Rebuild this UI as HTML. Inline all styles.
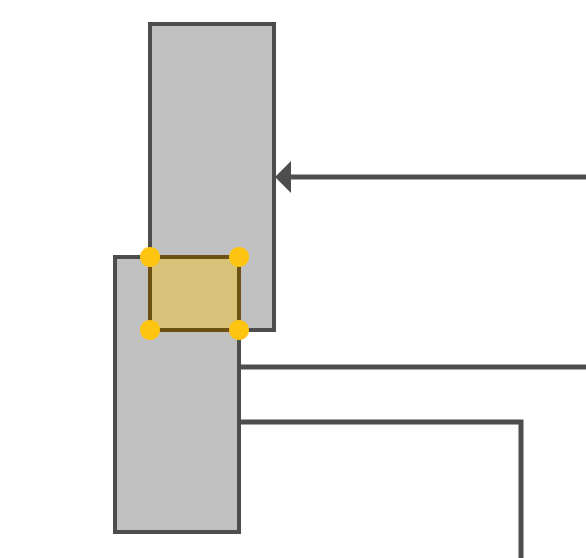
<!DOCTYPE html>
<html><head><meta charset="utf-8"><style>html,body{margin:0;padding:0;background:#fff}svg{display:block}</style></head>
<body>
<svg width="586" height="558" viewBox="0 0 586 558">
<rect x="150" y="24" width="124" height="306" fill="#c0c0c0" stroke="#4d4d4d" stroke-width="4"/>
<rect x="115" y="257" width="124" height="275" fill="#c0c0c0" stroke="#4d4d4d" stroke-width="4"/>
<rect x="150" y="257" width="89" height="73" fill="#d8c27a" stroke="#6b5012" stroke-width="4"/>
<circle cx="150" cy="257" r="10" fill="#ffc40f"/>
<circle cx="239" cy="257" r="10" fill="#ffc40f"/>
<circle cx="150" cy="330" r="10" fill="#ffc40f"/>
<circle cx="239" cy="330" r="10" fill="#ffc40f"/>
<line x1="586" y1="177" x2="288" y2="177" stroke="#4d4d4d" stroke-width="5"/>
<polygon points="275,177 291,161 291,193" fill="#4d4d4d"/>
<line x1="237" y1="367" x2="586" y2="367" stroke="#4d4d4d" stroke-width="5"/>
<polyline points="239,422 521,422 521,558" fill="none" stroke="#4d4d4d" stroke-width="5"/>
</svg>
</body></html>
